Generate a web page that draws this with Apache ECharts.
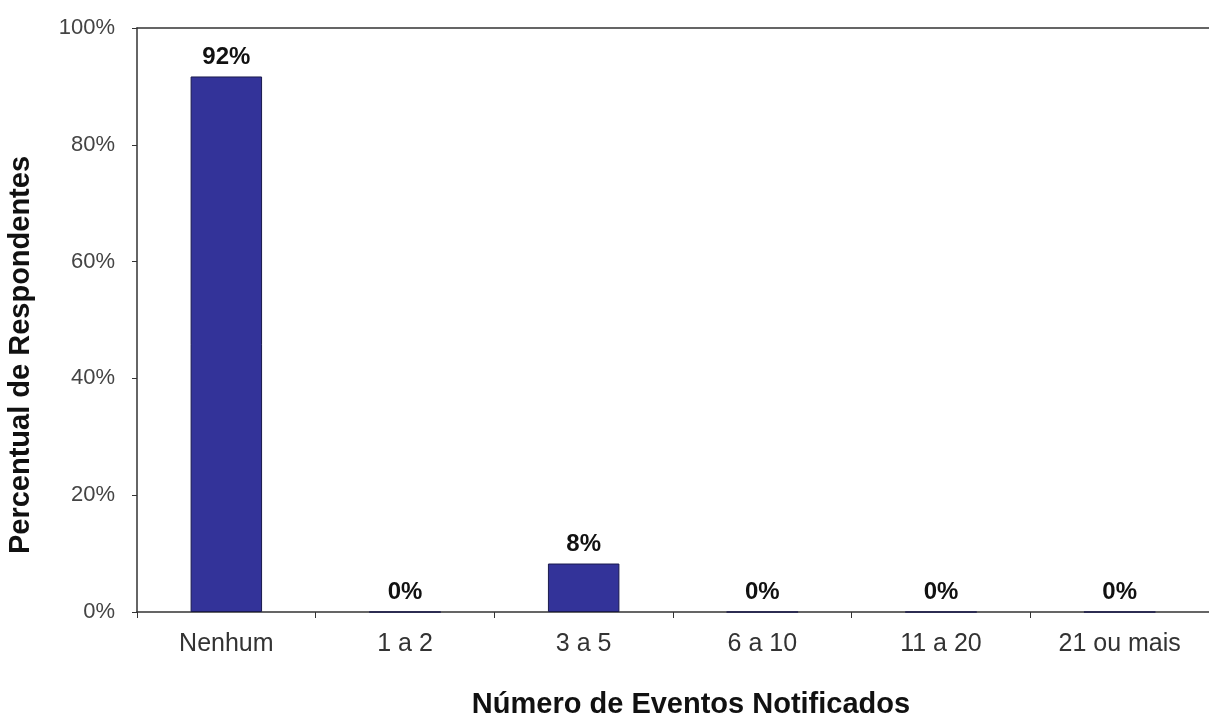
<!DOCTYPE html>
<html><head><meta charset="utf-8">
<script src="https://cdn.jsdelivr.net/npm/echarts@6/dist/echarts.min.js"></script>
<style>html,body{margin:0;padding:0;background:#fff}#c{width:1209px;height:718px}</style>
</head><body><div id="c"></div>
<script>
const categories = ['Nenhum', '1 a 2', '3 a 5', '6 a 10', '11 a 20', '21 ou mais'];
const values = [91.7, 0, 8.3, 0, 0, 0];
const yTicks = [0, 20, 40, 60, 80, 100];
const yTitle = 'Percentual de Respondentes';
const xTitle = 'Número de Eventos Notificados';

const chart = echarts.init(document.getElementById('c'));
const font = 'Liberation Sans, Arial, sans-serif';
chart.setOption({
  animation: false,
  grid: { left: 137, top: 28, width: 1086, height: 584 },
  xAxis: [{
    type: 'category', data: categories, position: 'bottom',
    axisLine: { lineStyle: { color: '#333', width: 1.5 } },
    axisTick: { show: true, length: 6, lineStyle: { color: '#333' } },
    axisLabel: { color: '#333', fontSize: 25, fontFamily: font, margin: 20 }
  }, {
    type: 'category', data: categories, position: 'top',
    axisLine: { lineStyle: { color: '#333', width: 1.5 } },
    axisTick: { show: false }, axisLabel: { show: false }
  }],
  yAxis: {
    type: 'value', min: yTicks[0], max: yTicks[yTicks.length - 1], interval: yTicks[1] - yTicks[0],
    axisLine: { show: true, lineStyle: { color: '#333', width: 1.5 } },
    axisTick: { show: true, length: 5, lineStyle: { color: '#333' } },
    splitLine: { show: false },
    axisLabel: { color: '#444', fontSize: 22, fontFamily: font, margin: 22, formatter: v => v + '%' }
  },
  series: [{
    type: 'bar', data: values, barWidth: '40%', xAxisIndex: 0,
    itemStyle: { color: '#333399', borderColor: '#1a1a4d', borderWidth: 1 },
    label: { show: true, position: 'top', distance: 7, color: '#111', fontSize: 24, fontWeight: 'bold', fontFamily: font,
      formatter: p => Math.round(p.value) + '%' }
  }],
  graphic: [
    { type: 'text', x: 35, y: 355, rotation: Math.PI / 2,
      style: { text: yTitle, fill: '#111', font: 'bold 29px ' + font, textAlign: 'center', textVerticalAlign: 'bottom' } },
    { type: 'text', x: 691, y: 719,
      style: { text: xTitle, fill: '#111', font: 'bold 29px ' + font, textAlign: 'center', textVerticalAlign: 'bottom' } }
  ]
});
</script></body></html>
